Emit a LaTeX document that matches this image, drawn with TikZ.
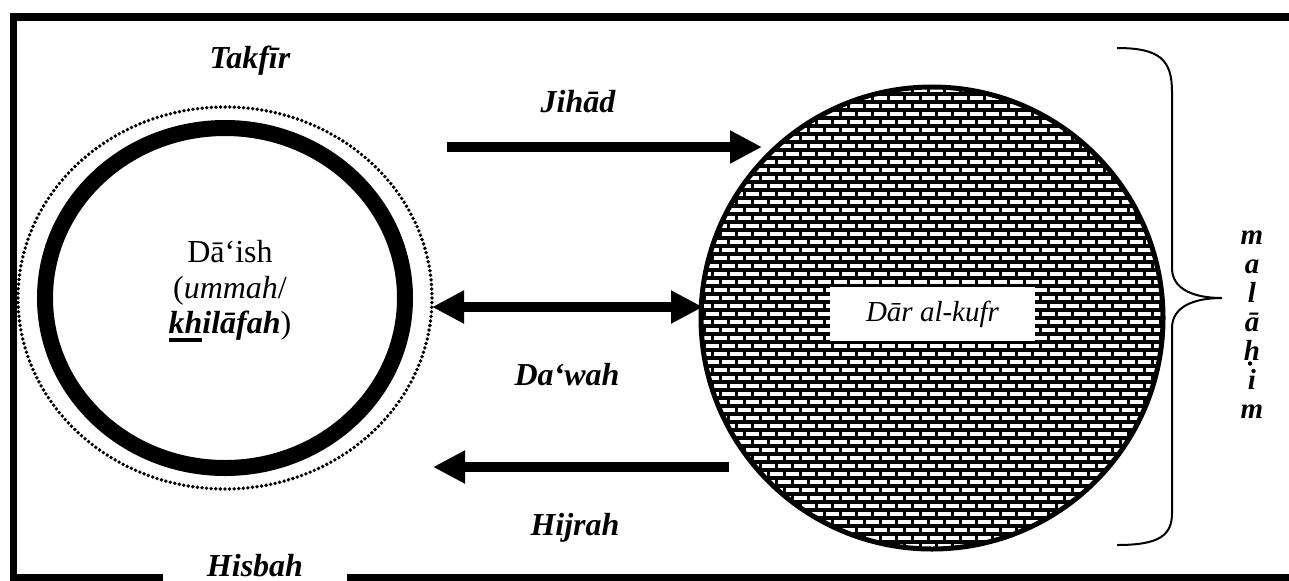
\documentclass[tikz,border=0pt]{standalone}
\usepackage{fontspec}
\setmainfont{Liberation Serif}
\usepackage{tikz}
\usetikzlibrary{arrows.meta,calc,positioning}

% thick bar under a group of letters
\newcommand{\khbar}[1]{\leavevmode\setbox0\hbox{#1}\rlap{\rule[-4pt]{\wd0}{1.6pt}}\box0}

\tikzset{
	tag/.style={font=\fontsize{16}{18}\selectfont\bfseries\itshape, inner sep=0pt, anchor=base},
	flow/.style={line width=5pt, -{Triangle[length=16pt,width=15.5pt]}},
	flowboth/.style={line width=5pt, {Triangle[length=16pt,width=15.5pt]}-{Triangle[length=16pt,width=15.5pt]}},
}

\begin{document}
\begin{tikzpicture}[x=0.5pt,y=-0.5pt]
			\colorlet{ringedge}{black}
			\colorlet{brickink}{black}
			\useasboundingbox (0,0) rectangle (1289,580);
			
			% ---------- frame ----------
			\draw[ringedge,line width=3.75pt] (163,578) -- (13.5,578) -- (13.5,17) -- (1289,17);
			\draw[ringedge,line width=3.75pt] (347,578) -- (1289,578);
			\node[tag] (takfir) at (250,68) {Takfīr};
			\node[tag] (hisbah) at (255,576) {Hisbah};
			
			% ---------- Dā‘ish ----------
			\coordinate (daish) at (225,298);
			\draw[ringedge,line width=1.9pt,line cap=round,dash pattern=on 0pt off 2.3pt]
				(daish) ellipse [x radius=207, y radius=191];
			\draw[ringedge,line width=8pt] (daish) ellipse [x radius=180, y radius=170];
			\node[align=center,font=\fontsize{16}{17.75}\selectfont] (daishtext) at (230,291)
				{Dā‘ish\\(\textit{ummah}/\\\textbf{\textit{\khbar{kh}ilāfah}})};
			
			% ---------- Dār al-kufr ----------
			\coordinate (kufr) at (932,318);
			\begin{scope}
				\clip (kufr) circle (231);
				\fill[brickink] (kufr) circle (231);
				% rows of bricks
				\foreach \r in {0,...,58}{
					\pgfmathsetmacro\ph{mod(\r,2)*4}
					\draw[white,line width=2.15pt,dash pattern=on 6.3pt off 1.7pt,dash phase=\ph pt]
						(690,{90+8*\r}) -- (1180,{90+8*\r});
				}
			\end{scope}
			\draw[ringedge,line width=2.5pt] (kufr) circle (231);
			\node[fill=white,inner sep=0pt,minimum width=102.5pt,minimum height=27pt,
				font=\fontsize{14.5}{16}\selectfont\itshape] (kufrtext) at (932.5,314) {Dār al-kufr};
			
			% ---------- flows ----------
			\coordinate (jihadA) at (447,147);
			\coordinate (jihadB) at (762,147);
			\coordinate (dawahA) at (432,307);
			\coordinate (dawahB) at (703,307);
			\coordinate (hijrahA) at (729,467);
			\coordinate (hijrahB) at (433,467);
			\draw[ringedge,flow] (jihadA) -- (jihadB);
			\draw[ringedge,flowboth] (dawahA) -- (dawahB);
			\draw[ringedge,flow] (hijrahA) -- (hijrahB);
			\node[tag] (jihad) at (578,112) {Jihād};
			\node[tag] (dawah) at (567,385) {Da‘wah};
			\node[tag] (hijrah) at (575,535) {Hijrah};
			
			% ---------- malāḥim ----------
			\draw[ringedge,line width=1pt] (1117,48) .. controls (1160,48) and (1172,60) .. (1172,92)
				-- (1172,268) .. controls (1172,290) and (1195,298) .. (1222,298)
				.. controls (1195,298) and (1172,306) .. (1172,328)
				-- (1172,513) .. controls (1172,535) and (1160,545) .. (1117,545);
			\node[align=center,font=\fontsize{14.5}{14.5}\selectfont\bfseries\itshape] (malahim) at (1252,325)
				{m\\a\\l\\ā\\ḥ\\i\\m};
			
		\end{tikzpicture}
\end{document}
